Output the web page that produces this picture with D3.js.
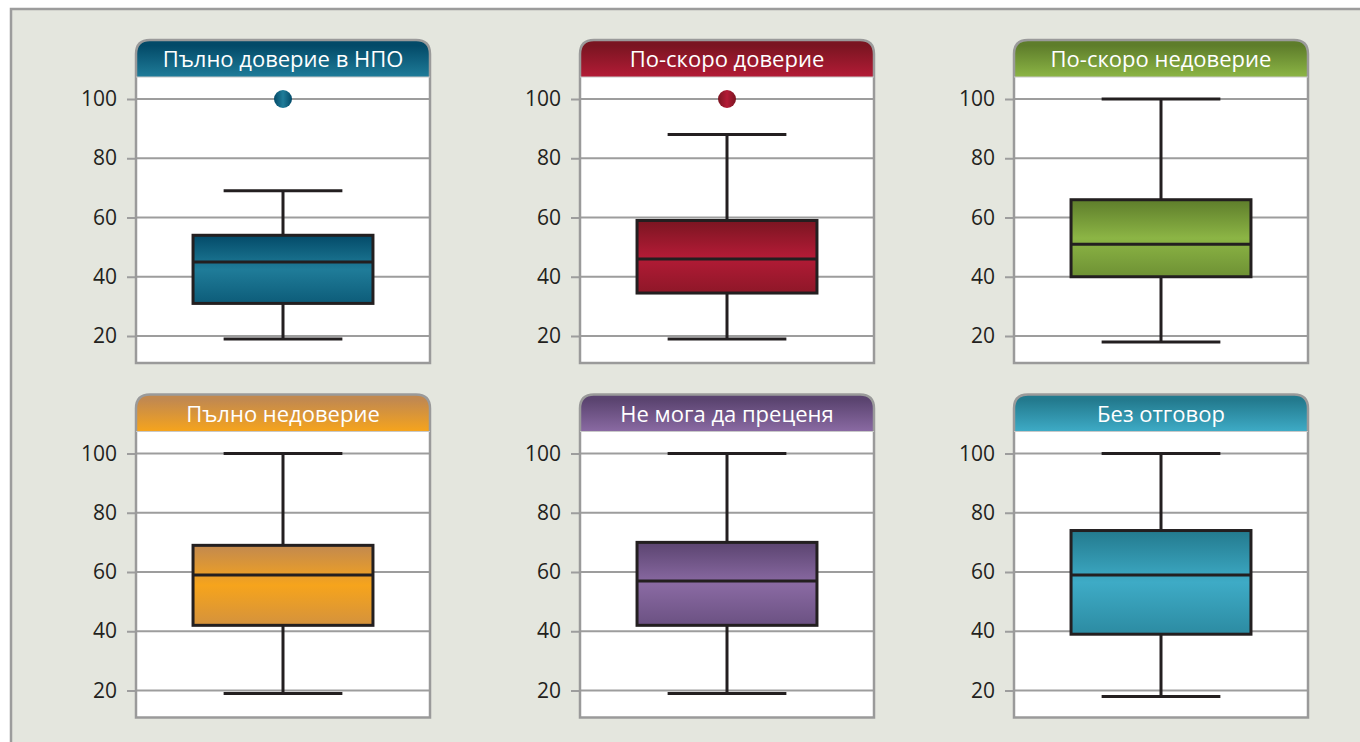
<!DOCTYPE html>
<html>
<head>
<meta charset="utf-8">
<script src="https://cdn.jsdelivr.net/npm/d3@7"></script>
<style>
  html, body { margin: 0; padding: 0; background: #ffffff; }
  svg { display: block; }
</style>
</head>
<body>
<div id="chart"></div>
<script>
// data
var categories = ['Пълно доверие в НПО', 'По-скоро доверие', 'По-скоро недоверие',
                  'Пълно недоверие', 'Не мога да преценя', 'Без отговор'];
var whiskerLow  = [19, 19, 18, 19, 19, 18];
var q1          = [31, 34.5, 40, 42, 42, 39];
var medians     = [45, 46, 51, 59, 57, 59];
var q3          = [54, 59, 66, 69, 70, 74];
var whiskerHigh = [69, 88, 100, 100, 100, 100];
var outliers    = [[100], [100], [], [], [], []];
var tickValues  = [20, 40, 60, 80, 100];

var palette = [
  {dark: "#034a68", light: "#1f7c99"},
  {dark: "#7a1521", light: "#b31b36"},
  {dark: "#5e7d2b", light: "#8cb545"},
  {dark: "#c2894f", light: "#f6a41c"},
  {dark: "#5b4470", light: "#8a6aa3"},
  {dark: "#237a8e", light: "#3eabc6"}
];

var W = 1360, H = 742;
var colX = [136, 580, 1014];
var rowY = [40, 394.5];
var panelW = 294, headerH = 37, panelH = 323;

var svg = d3.select('#chart').append('svg')
  .attr('width', W)
  .attr('height', H);

var defs = svg.append('defs');
palette.forEach(function (c, i) {
  var hg = defs.append('linearGradient').attr('id', 'head' + i)
    .attr('x1', 0).attr('y1', 0).attr('x2', 0).attr('y2', 1);
  hg.append('stop').attr('offset', '0.15').attr('stop-color', c.dark);
  hg.append('stop').attr('offset', '1').attr('stop-color', c.light);

  var bg = defs.append('linearGradient').attr('id', 'box' + i)
    .attr('x1', 0).attr('y1', 0).attr('x2', 0).attr('y2', 1);
  bg.append('stop').attr('offset', '0').attr('stop-color', c.dark);
  bg.append('stop').attr('offset', '0.5').attr('stop-color', c.light);
  bg.append('stop').attr('offset', '1').attr('stop-color', d3.interpolateRgb(c.dark, c.light)(0.35));

  var dg = defs.append('linearGradient').attr('id', 'dot' + i)
    .attr('x1', 0).attr('y1', 0).attr('x2', 1).attr('y2', 0);
  dg.append('stop').attr('offset', '0').attr('stop-color', c.dark);
  dg.append('stop').attr('offset', '0.5').attr('stop-color', c.light);
  dg.append('stop').attr('offset', '1').attr('stop-color', c.dark);
});

// outer frame
svg.append('rect')
  .attr('x', 11).attr('y', 9)
  .attr('width', W + 20).attr('height', H + 20)
  .attr('fill', '#e4e6de')
  .attr('stroke', '#9c9c9c')
  .attr('stroke-width', 2.5);

function roundTopPath(w, h, r) {
  return 'M0,' + h + 'V' + r + 'Q0,0 ' + r + ',0H' + (w - r) +
         'Q' + w + ',0 ' + w + ',' + r + 'V' + h + 'Z';
}

categories.forEach(function (name, i) {
  var px = colX[i % 3], py = rowY[Math.floor(i / 3)];
  var g = svg.append('g').attr('transform', 'translate(' + px + ',' + py + ')');

  var y = d3.scaleLinear().domain([20, 100]).range([296, 59]);
  var x = d3.scaleBand().domain([name]).range([0, panelW])
    .paddingInner(0).paddingOuter(0.317);
  var cx = x(name) + x.bandwidth() / 2;
  var capW = x.bandwidth() * 0.66;

  // panel body
  g.append('rect')
    .attr('x', 0).attr('y', headerH)
    .attr('width', panelW).attr('height', panelH - headerH)
    .attr('fill', '#ffffff');
  g.append('path')
    .attr('d', roundTopPath(panelW, headerH, 14))
    .attr('fill', 'url(#head' + i + ')');

  // grid lines
  g.selectAll('.grid')
    .data(tickValues)
    .enter()
    .append('line')
      .attr('class', 'grid')
      .attr('x1', 0).attr('x2', panelW)
      .attr('y1', d => y(d)).attr('y2', d => y(d))
      .attr('stroke', '#9d9d9d')
      .attr('stroke-width', 2);

  var axis = d3.axisLeft(y).tickValues(tickValues).tickSize(9).tickPadding(10);
  var axG = g.append('g').call(axis);
  axG.select('.domain').remove();
  axG.selectAll('line').attr('stroke', '#9d9d9d').attr('stroke-width', 2);
  axG.selectAll('text')
    .attr('fill', '#231f20')
    .attr('font-family', "'Open Sans', sans-serif")
    .attr('font-size', '21px');

  // whiskers
  var st = '#231f20';
  g.append('line')
    .attr('x1', cx).attr('x2', cx)
    .attr('y1', y(whiskerLow[i])).attr('y2', y(q1[i]))
    .attr('stroke', st).attr('stroke-width', 3);
  g.append('line')
    .attr('x1', cx).attr('x2', cx)
    .attr('y1', y(q3[i])).attr('y2', y(whiskerHigh[i]))
    .attr('stroke', st).attr('stroke-width', 3);
  [whiskerLow[i], whiskerHigh[i]].forEach(function (v) {
    g.append('line')
      .attr('x1', cx - capW / 2).attr('x2', cx + capW / 2)
      .attr('y1', y(v)).attr('y2', y(v))
      .attr('stroke', st).attr('stroke-width', 3);
  });

  // box
  g.append('rect')
    .attr('x', x(name))
    .attr('y', y(q3[i]))
    .attr('width', x.bandwidth())
    .attr('height', y(q1[i]) - y(q3[i]))
    .attr('fill', 'url(#box' + i + ')')
    .attr('stroke', st)
    .attr('stroke-width', 3);
  g.append('line')
    .attr('x1', x(name)).attr('x2', x(name) + x.bandwidth())
    .attr('y1', y(medians[i])).attr('y2', y(medians[i]))
    .attr('stroke', st).attr('stroke-width', 3);

  // outliers
  g.selectAll('.outlier')
    .data(outliers[i])
    .enter()
    .append('circle')
      .attr('class', 'outlier')
      .attr('cx', cx)
      .attr('cy', d => y(d))
      .attr('r', 9)
      .attr('fill', 'url(#dot' + i + ')');

  // panel outline
  g.append('path')
    .attr('d', roundTopPath(panelW, panelH, 14))
    .attr('fill', 'none')
    .attr('stroke', '#9a9a9a')
    .attr('stroke-width', 2.5);
  g.append('line')
    .attr('x1', 0).attr('x2', panelW)
    .attr('y1', headerH).attr('y2', headerH)
    .attr('stroke', '#c8c8c8').attr('stroke-width', 1);

  g.append('text')
    .attr('x', panelW / 2)
    .attr('y', 27)
    .attr('text-anchor', 'middle')
    .attr('fill', '#ffffff')
    .attr('font-family', "'Open Sans', sans-serif")
    .attr('font-size', '22px')
    .text(name);
});
</script>
</body>
</html>
